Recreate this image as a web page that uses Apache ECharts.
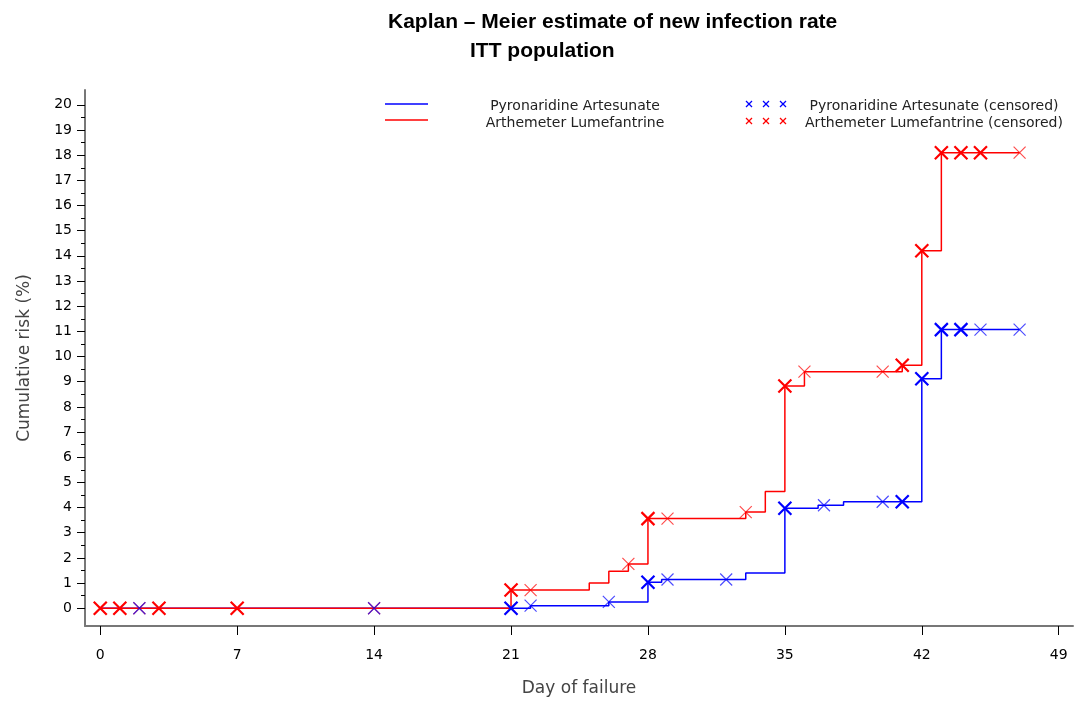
<!DOCTYPE html>
<html><head><meta charset="utf-8">
<script src="https://cdn.jsdelivr.net/npm/echarts@6/dist/echarts.min.js"></script>
<style>html,body{margin:0;padding:0;background:#fff}#c{width:1074px;height:702px}</style>
</head><body><div id="c"></div>
<script>
// ---- data ----
const titleLine1 = 'Kaplan – Meier estimate of new infection rate';
const titleLine2 = 'ITT population';
const seriesNames = ['Pyronaridine Artesunate', 'Arthemeter Lumefantrine'];
const censoredNames = ['Pyronaridine Artesunate (censored)', 'Arthemeter Lumefantrine (censored)'];
const xTicks = [0, 7, 14, 21, 28, 35, 42, 49];
const yTicks = [0, 1, 2, 3, 4, 5, 6, 7, 8, 9, 10, 11, 12, 13, 14, 15, 16, 17, 18, 19, 20];
const yMinorTicks = [0.5, 1.5, 2.5, 3.5, 4.5, 5.5, 6.5, 7.5, 8.5, 9.5, 10.5, 11.5, 12.5, 13.5, 14.5, 15.5, 16.5, 17.5, 18.5, 19.5];

// Kaplan-Meier step curves: [day, cumulative risk %]
const blueKM = [[0,0],[21,0],[22,0.1],[26,0.25],[28,1.03],[28.7,1.14],[33,1.4],[35,3.97],[36.7,4.09],[38,4.23],[42,9.12],[43,11.07],[47,11.07]];
const redKM = [[0,0],[21,0.72],[25,1.0],[26,1.47],[27,1.76],[28,3.56],[33,3.82],[34,4.64],[35,8.83],[36,9.4],[41,9.65],[42,14.2],[43,18.1],[47,18.1]];

// censored marks (overprinted = heavy, single = light)
const blueCensHeavy = [[21,0],[28,1.03],[35,3.97],[41,4.23],[42,9.12],[43,11.07],[44,11.07]];
const blueCensLight = [[2,0],[14,0],[22,0.1],[26,0.25],[29,1.14],[32,1.14],[37,4.09],[40,4.23],[45,11.07],[47,11.07]];
const redCensHeavy = [[0,0],[1,0],[3,0],[7,0],[21,0.72],[28,3.56],[35,8.83],[41,9.65],[42,14.2],[43,18.1],[44,18.1],[45,18.1]];
const redCensLight = [[2,0],[14,0],[21,0],[22,0.72],[27,1.76],[29,3.56],[33,3.82],[36,9.4],[40,9.4],[47,18.1]];

// ---- chart ----
const BLUE = '#0000ff', RED = '#ff0000';
const XSYM = 'path://M0 0L10 10M10 0L0 10';
const FONT = 'DejaVu Sans';

function cens(data, color, heavy, z) {
  return {
    type: 'scatter', data: data, symbol: XSYM, symbolSize: heavy ? 13 : 12, z: z,
    silent: true,
    itemStyle: { color: 'rgba(0,0,0,0)', borderColor: color, borderWidth: heavy ? 2.2 : 1.2, opacity: heavy ? 1 : 0.7 }
  };
}
function km(data, color, z) {
  return { type: 'line', data: data, step: 'end', showSymbol: false, z: z, silent: true,
    lineStyle: { color: color, width: 1.5 } };
}

function xMark(cx, cy, color) {
  const h = 3;
  return [
    { type: 'line', shape: { x1: cx - h, y1: cy - h, x2: cx + h, y2: cy + h }, style: { stroke: color, lineWidth: 1.2 } },
    { type: 'line', shape: { x1: cx - h, y1: cy + h, x2: cx + h, y2: cy - h }, style: { stroke: color, lineWidth: 1.2 } }
  ];
}
const legendFont = { fontFamily: FONT, fontSize: 14, fill: '#222' };
const graphic = [
  { type: 'line', shape: { x1: 385, y1: 104, x2: 428, y2: 104 }, style: { stroke: BLUE, lineWidth: 1.5 } },
  { type: 'line', shape: { x1: 385, y1: 120, x2: 428, y2: 120 }, style: { stroke: RED, lineWidth: 1.5 } },
  { type: 'text', x: 575, y: 106, style: Object.assign({ text: seriesNames[0], align: 'center', verticalAlign: 'middle' }, legendFont) },
  { type: 'text', x: 575, y: 123, style: Object.assign({ text: seriesNames[1], align: 'center', verticalAlign: 'middle' }, legendFont) },
  { type: 'text', x: 934, y: 106, style: Object.assign({ text: censoredNames[0], align: 'center', verticalAlign: 'middle' }, legendFont) },
  { type: 'text', x: 934, y: 123, style: Object.assign({ text: censoredNames[1], align: 'center', verticalAlign: 'middle' }, legendFont) }
].concat(xMark(749, 104, BLUE), xMark(766, 104, BLUE), xMark(783, 104, BLUE),
         xMark(749, 121, RED), xMark(766, 121, RED), xMark(783, 121, RED));

const chart = echarts.init(document.getElementById('c'), null, { renderer: 'canvas' });
chart.setOption({
  animation: false,
  backgroundColor: '#fff',
  title: [
    { text: titleLine1, left: 388, top: 12, padding: 0, textStyle: { fontFamily: 'Liberation Sans', fontSize: 21, fontWeight: 'bold', color: '#000' } },
    { text: titleLine2, left: 470, top: 41, padding: 0, textStyle: { fontFamily: 'Liberation Sans', fontSize: 21, fontWeight: 'bold', color: '#000' } }
  ],
  grid: { left: 85, right: 1, top: 90, bottom: 70, containLabel: false },
  xAxis: {
    type: 'value', min: -0.78, max: 49.73,
    name: 'Day of failure', nameLocation: 'middle', nameGap: 54,
    nameTextStyle: { fontFamily: FONT, fontSize: 17, color: '#444' },
    axisLine: { show: true, onZero: false, lineStyle: { color: '#777', width: 2 } },
    axisTick: { show: true, inside: false, length: 9, customValues: xTicks, lineStyle: { color: '#000', width: 1 } },
    axisLabel: { customValues: xTicks, margin: 22, fontFamily: FONT, fontSize: 14, color: '#000' },
    splitLine: { show: false }
  },
  yAxis: [{
    type: 'value', min: -0.707, max: 20.59, position: 'left',
    name: 'Cumulative risk (%)', nameLocation: 'middle', nameGap: 52, nameRotate: 90,
    nameTextStyle: { fontFamily: FONT, fontSize: 17, color: '#444' },
    axisLine: { show: true, onZero: false, lineStyle: { color: '#777', width: 2 } },
    axisTick: { show: true, inside: false, length: 8, customValues: yTicks, lineStyle: { color: '#000', width: 1 } },
    axisLabel: { customValues: yTicks, margin: 13, fontFamily: FONT, fontSize: 14, color: '#000' },
    splitLine: { show: false }
  }, {
    type: 'value', min: -0.707, max: 20.59, position: 'left', offset: 0,
    axisLine: { show: false, onZero: false },
    axisTick: { show: true, inside: false, length: 4, customValues: yMinorTicks, lineStyle: { color: '#000', width: 1 } },
    axisLabel: { show: false },
    splitLine: { show: false }
  }],
  graphic: graphic,
  series: [
    km(blueKM, BLUE, 2),
    km(redKM, RED, 3),
    cens(redCensLight, RED, false, 4),
    cens(blueCensLight, BLUE, false, 5),
    cens(redCensHeavy, RED, true, 6),
    cens(blueCensHeavy, BLUE, true, 7)
  ]
});
</script>
</body></html>
